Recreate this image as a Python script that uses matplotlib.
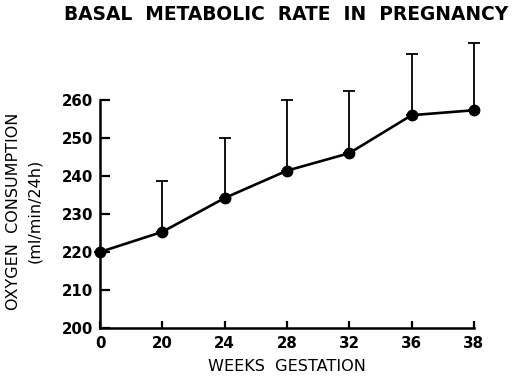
import matplotlib
matplotlib.use("Agg")
import matplotlib.pyplot as plt
import numpy as np

weeks = ["0", "20", "24", "28", "32", "36", "38"]
mean_o2 = [220.0, 225.3, 234.2, 241.4, 246.0, 256.0, 257.3]
upper_sd = [0.0, 13.4, 15.8, 18.6, 16.4, 16.0, 17.6]
yticks = [200, 210, 220, 230, 240, 250, 260]

plt.rcParams['font.family'] = ['DejaVu Sans']
fig = plt.figure(figsize=(5.14, 3.79), dpi=100)
ax = fig.add_axes([0.1946, 0.1346, 0.7274, 0.762])

x = np.arange(len(weeks))
ax.errorbar(x, mean_o2, yerr=[np.zeros(len(x)), upper_sd], fmt='none',
            ecolor='black', elinewidth=1.3, capsize=4.5, capthick=1.3, clip_on=False)
ax.plot(x, mean_o2, color='black', lw=1.9, marker='o', ms=7.5, clip_on=False, zorder=3)

ax.set_xlim(0, 6)
ax.set_ylim(200, 276)
ax.set_xticks(x)
ax.set_xticklabels(weeks)
ax.set_yticks(yticks)
for s in ['top', 'right']:
    ax.spines[s].set_visible(False)
ax.spines['left'].set_bounds(200, 260)
ax.spines['left'].set_linewidth(1.8)
ax.spines['bottom'].set_linewidth(1.8)
ax.tick_params(axis='y', direction='in', length=7, width=1.6, labelsize=10.8, pad=5)
ax.tick_params(axis='x', direction='in', length=5, width=1.6, labelsize=10.8, pad=6)
for lab in ax.get_xticklabels() + ax.get_yticklabels():
    lab.set_fontweight('bold')

fig.text(0.557, 0.962, "BASAL  METABOLIC  RATE  IN  PREGNANCY", ha='center', va='center',
         fontsize=13.4, fontweight='bold')
fig.text(0.559, 0.034, "WEEKS  GESTATION", ha='center', va='center', fontsize=11.6)
fig.text(0.026, 0.443, "OXYGEN  CONSUMPTION", ha='center', va='center', rotation=90, fontsize=11.5)
fig.text(0.067, 0.443, "(ml/min/24h)", ha='center', va='center', rotation=90, fontsize=11.5)

fig.savefig("out.png", dpi=100)
